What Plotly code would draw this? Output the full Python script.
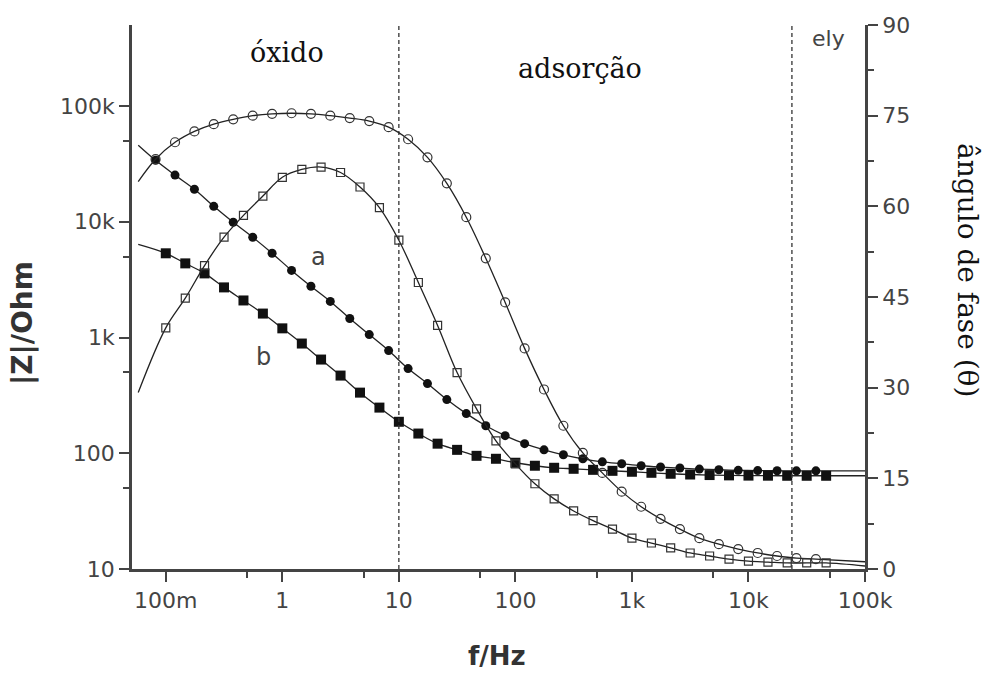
import plotly.graph_objects as go

# ---------------- data ----------------
freq_a = [0.0817, 0.12, 0.176, 0.258, 0.379, 0.557, 0.817, 1.2, 1.76, 2.58, 3.79, 5.57,
          8.17, 12, 17.6, 25.8, 37.9, 55.7, 81.7, 120, 176, 258, 379, 557, 817, 1200,
          1760, 2580, 3790, 5570, 8170, 12000, 17600, 25800, 37900]
zmod_a = [34000, 25300, 19100, 13600, 9900, 7350, 5340, 3800, 2770, 2050, 1460, 1060,
          771, 539, 400, 291, 220, 173, 142, 121, 107, 97, 89.6, 84.3, 81.1, 78.0,
          76.0, 74.5, 73.0, 72.0, 71.2, 70.8, 70.6, 70.5, 70.5]
phase_a = [67.8, 70.6, 72.4, 73.6, 74.4, 75.0, 75.3, 75.4, 75.3, 75.0, 74.6, 74.1,
           73.1, 71.1, 68.1, 63.8, 58.2, 51.4, 44.1, 36.5, 29.7, 23.7, 19.2, 15.9,
           12.8, 10.3, 8.3, 6.6, 5.1, 4.1, 3.3, 2.65, 2.15, 1.8, 1.65]

freq_b = [0.1, 0.147, 0.215, 0.316, 0.464, 0.681, 1.0, 1.47, 2.15, 3.16, 4.64, 6.81,
          10, 14.7, 21.5, 31.6, 46.4, 68.1, 100, 147, 215, 316, 464, 681, 1000, 1470,
          2150, 3160, 4640, 6810, 10000, 14700, 21500, 31600, 46400]
zmod_b = [5340, 4370, 3580, 2710, 2090, 1610, 1200, 887, 645, 469, 334, 248, 187, 148,
          121, 107, 95, 89.6, 82.8, 78, 74.9, 73.4, 71.9, 70.5, 69.2, 67.8, 66.5, 65.5,
          64.8, 64.4, 64.1, 64.0, 63.9, 63.9, 63.9]
phase_b = [39.9, 44.8, 50.2, 54.9, 58.5, 61.7, 64.8, 66.1, 66.5, 65.6, 63.2, 59.8,
           54.4, 47.4, 40.3, 32.5, 26.5, 21.2, 17.4, 14.1, 11.6, 9.6, 8.0, 6.6, 5.1,
           4.3, 3.5, 2.65, 2.15, 1.65, 1.3, 1.15, 1.0, 1.0, 1.0]

# fitted curves: end values outside the measured range
fit_freq_ends = [0.058, 100000]
zmod_a_ends = [45900, 70.5]
zmod_b_ends = [6380, 63.9]
phase_a_ends = [64.1, 1.2]
phase_b_ends = [29.2, 0.5]

region_bounds = [10, 23600]

x_tickvals = [0.1, 1, 10, 100, 1000, 10000, 100000]
x_ticktext = ["100m", "1", "10", "100", "1k", "10k", "100k"]
y_tickvals = [10, 100, 1000, 10000, 100000]
y_ticktext = ["10", "100", "1k", "10k", "100k"]
y2_tickvals = [0, 15, 30, 45, 60, 75, 90]
x_minor = [0.5, 5, 50, 500, 5000, 50000]
y_minor = [50, 500, 5000, 50000]
y2_minor = [7.5, 22.5, 37.5, 52.5, 67.5, 82.5]

# ---------------- figure ----------------
AX = "#444444"
LINE = "#222222"
fig = go.Figure()


def fit_trace(f, v, ends, yaxis):
    xs = [fit_freq_ends[0]] + f + [fit_freq_ends[1]]
    ys = [ends[0]] + v + [ends[1]]
    return go.Scatter(x=xs, y=ys, mode="lines", yaxis=yaxis, showlegend=False,
                      line=dict(color=LINE, width=1.3, shape="spline", smoothing=1.0),
                      hoverinfo="skip")


# dashed region boundaries
for b in region_bounds:
    fig.add_trace(go.Scatter(x=[b, b], y=[0, 90], yaxis="y2", mode="lines",
                             line=dict(color="#333333", width=1.3, dash="4px,3px"),
                             showlegend=False, hoverinfo="skip"))

fig.add_trace(fit_trace(freq_a, zmod_a, zmod_a_ends, "y"))
fig.add_trace(fit_trace(freq_b, zmod_b, zmod_b_ends, "y"))
fig.add_trace(fit_trace(freq_a, phase_a, phase_a_ends, "y2"))
fig.add_trace(fit_trace(freq_b, phase_b, phase_b_ends, "y2"))

fig.add_trace(go.Scatter(x=freq_a, y=phase_a, yaxis="y2", mode="markers", showlegend=False,
                         marker=dict(symbol="circle-open", size=9, color="#333333",
                                     line=dict(width=1.2, color="#333333"))))
fig.add_trace(go.Scatter(x=freq_b, y=phase_b, yaxis="y2", mode="markers", showlegend=False,
                         marker=dict(symbol="square-open", size=8, color="#333333",
                                     line=dict(width=1.2, color="#333333"))))
fig.add_trace(go.Scatter(x=freq_a, y=zmod_a, yaxis="y", mode="markers", showlegend=False,
                         marker=dict(symbol="circle", size=9, color="#111111")))
fig.add_trace(go.Scatter(x=freq_b, y=zmod_b, yaxis="y", mode="markers", showlegend=False,
                         marker=dict(symbol="square", size=10, color="#111111")))

tickfont = dict(family="DejaVu Sans", size=22, color=AX)
common = dict(showline=True, linecolor=AX, linewidth=2.5, ticks="outside", ticklen=10,
              tickwidth=2, tickcolor=AX, showgrid=False, zeroline=False, tickfont=tickfont)

fig.update_layout(
    width=993, height=673,
    margin=dict(l=132, r=128, t=25, b=104),
    paper_bgcolor="white", plot_bgcolor="white",
    font=dict(family="DejaVu Sans", color=AX),
    xaxis=dict(type="log", range=[-1.29, 5.0], tickvals=x_tickvals, ticktext=x_ticktext,
               minor=dict(tickvals=x_minor, ticks="outside", ticklen=6, tickwidth=1.5,
                          tickcolor=AX, showgrid=False),
               **common),
    yaxis=dict(type="log", range=[1, 5.70], tickvals=y_tickvals, ticktext=y_ticktext,
               minor=dict(tickvals=y_minor, ticks="outside", ticklen=6, tickwidth=1.5,
                          tickcolor=AX, showgrid=False),
               **common),
    yaxis2=dict(overlaying="y", side="right", anchor="x", range=[0, 90],
                tickvals=y2_tickvals,
                minor=dict(tickvals=y2_minor, ticks="outside", ticklen=6, tickwidth=1.5,
                           tickcolor=AX, showgrid=False),
                **common),
)


def px_ann(text, px, py, font, angle=0):
    fig.add_annotation(text=text, xref="paper", yref="paper",
                       x=(px - 132) / 733, y=(569 - py) / 544,
                       xanchor="center", yanchor="middle", showarrow=False,
                       textangle=angle, font=font)


serif = dict(family="DejaVu Serif", size=27, color="#111111")
px_ann("óxido", 287, 52, serif)
px_ann("adsorção", 580, 68, serif)
px_ann("ely", 828, 38, dict(family="DejaVu Sans", size=22, color=AX))
px_ann("a", 318, 257, dict(family="DejaVu Sans", size=24, color=AX))
px_ann("b", 263, 357, dict(family="DejaVu Sans", size=24, color=AX))
px_ann("|Z|/Ohm", 22, 323, dict(family="DejaVu Sans", size=28, color="#333333",
                                  weight="bold"), angle=-90)
px_ann("f/Hz", 497, 656, dict(family="DejaVu Sans", size=26, color="#333333",
                              weight="bold"))
px_ann("ângulo de fase (θ)", 968, 270, dict(family="DejaVu Serif", size=28,
                                            color="#111111"), angle=90)

fig.write_html("out.html")
